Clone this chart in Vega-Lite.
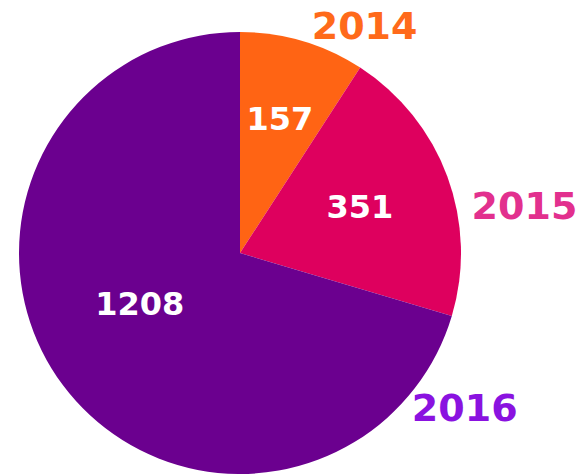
{
  "$schema": "https://vega.github.io/schema/vega-lite/v6.json",
  "width": 480,
  "height": 444,
  "padding": {"top": 31, "left": 0, "right": 107, "bottom": 0},
  "autosize": {"type": "none"},
  "background": "white",
  "config": {"view": {"stroke": null}},
  "data": {"values": [
    {"year": "2014", "count": 157},
    {"year": "2015", "count": 351},
    {"year": "2016", "count": 1208}
  ]},
  "transform": [
    {"stack": "count", "groupby": [], "sort": [{"field": "year", "order": "ascending"}], "as": ["c0", "c1"]}
  ],
  "encoding": {
    "theta": {"field": "c0", "type": "quantitative", "scale": {"domain": [0, 1716]}}
  },
  "layer": [
    {
      "mark": {"type": "arc", "outerRadius": 221},
      "encoding": {
        "theta2": {"field": "c1"},
        "color": {"field": "year", "type": "nominal",
          "scale": {"domain": ["2014", "2015", "2016"], "range": ["#FF6414", "#DE005E", "#6B008F"]},
          "legend": null}
      }
    },
    {
      "transform": [{"filter": "datum.year == '2014'"}],
      "mark": {"type": "text", "radius": 139, "thetaOffset": 0.291, "font": "DejaVu Sans", "fontWeight": "bold", "fontSize": 32, "fill": "white", "align": "center", "baseline": "middle"},
      "encoding": {"text": {"field": "count"}}
    },
    {
      "transform": [{"filter": "datum.year == '2015'"}],
      "mark": {"type": "text", "radius": 128, "thetaOffset": 0.637, "font": "DejaVu Sans", "fontWeight": "bold", "fontSize": 32, "fill": "white", "align": "center", "baseline": "middle"},
      "encoding": {"text": {"field": "count"}}
    },
    {
      "transform": [{"filter": "datum.year == '2016'"}],
      "mark": {"type": "text", "radius": 113, "thetaOffset": 2.373, "font": "DejaVu Sans", "fontWeight": "bold", "fontSize": 32, "fill": "white", "align": "center", "baseline": "middle"},
      "encoding": {"text": {"field": "count"}}
    },
    {
      "transform": [{"filter": "datum.year == '2014'"}],
      "mark": {"type": "text", "radius": 257, "thetaOffset": 0.506, "font": "DejaVu Sans", "fontWeight": "bold", "fontSize": 38, "fill": "#FF6A1A", "align": "center", "baseline": "middle"},
      "encoding": {"text": {"field": "year"}}
    },
    {
      "transform": [{"filter": "datum.year == '2015'"}],
      "mark": {"type": "text", "radius": 288, "thetaOffset": 0.839, "font": "DejaVu Sans", "fontWeight": "bold", "fontSize": 38, "fill": "#E2308E", "align": "center", "baseline": "middle"},
      "encoding": {"text": {"field": "year"}}
    },
    {
      "transform": [{"filter": "datum.year == '2016'"}],
      "mark": {"type": "text", "radius": 274, "thetaOffset": 0.32, "font": "DejaVu Sans", "fontWeight": "bold", "fontSize": 38, "fill": "#8A12E0", "align": "center", "baseline": "middle"},
      "encoding": {"text": {"field": "year"}}
    }
  ]
}
